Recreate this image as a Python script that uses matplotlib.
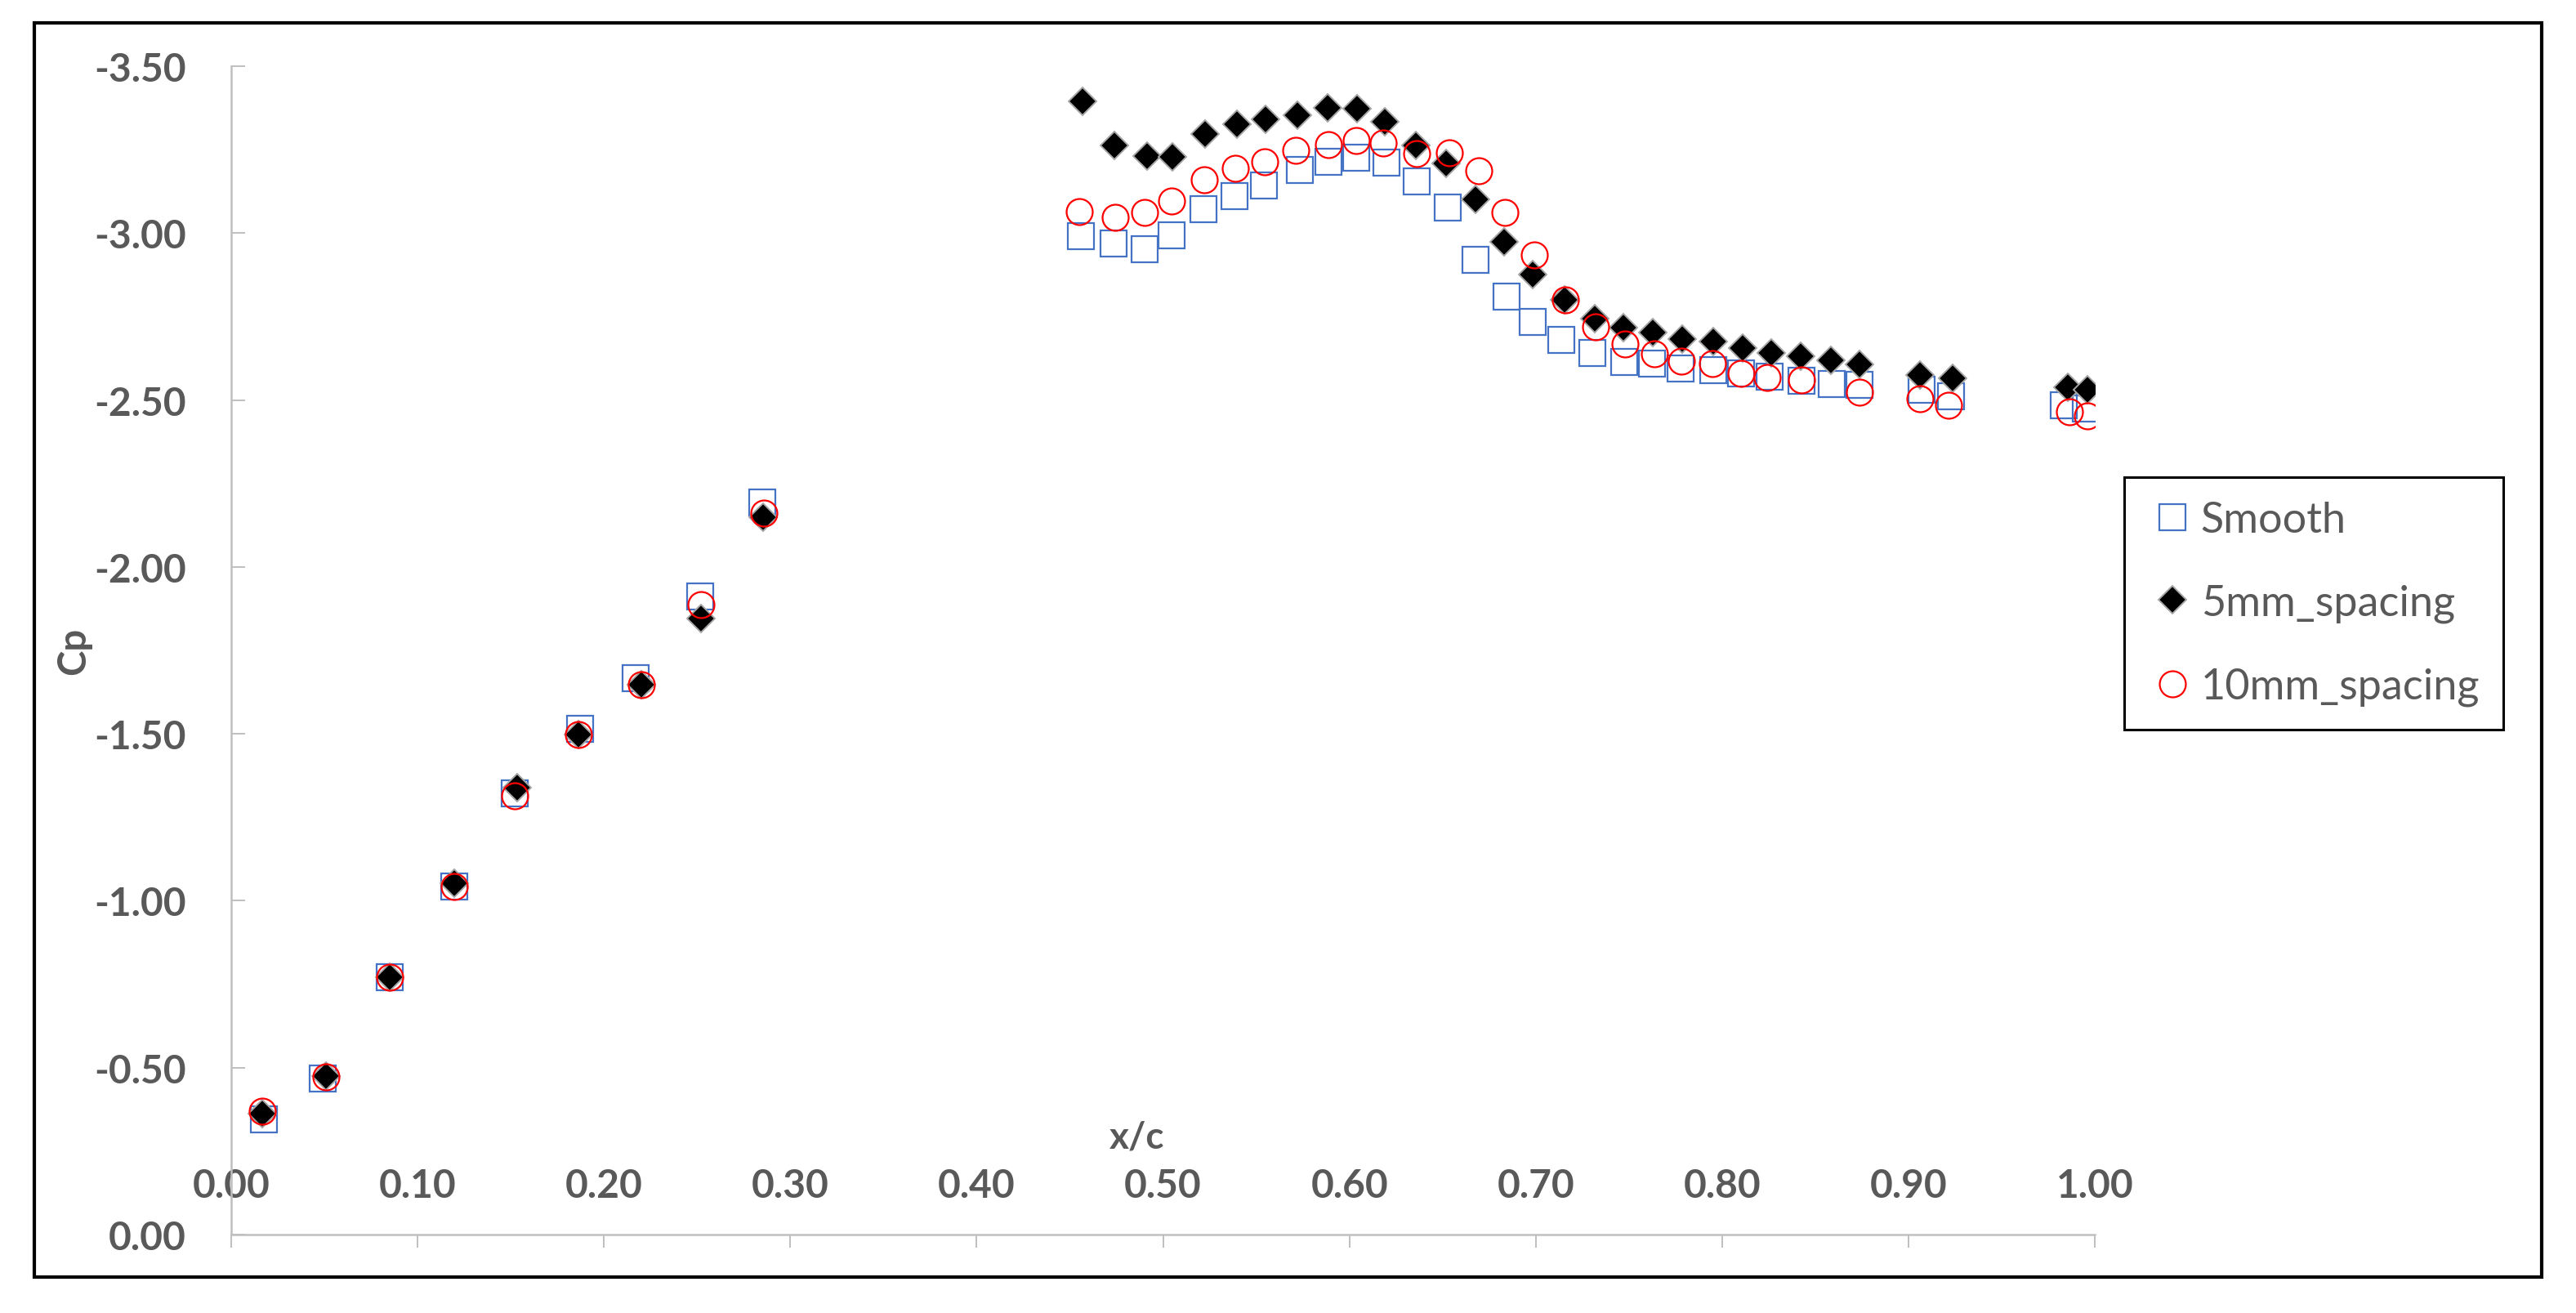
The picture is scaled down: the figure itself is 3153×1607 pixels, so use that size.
import matplotlib.pyplot as plt
from matplotlib.patches import Rectangle

# x/c positions and Cp values
smooth_x = [0.0175, 0.049, 0.0848, 0.1197, 0.152, 0.187, 0.2168, 0.2516, 0.285,
            0.4558, 0.4733, 0.4899, 0.5045, 0.5216, 0.5384, 0.554, 0.5732, 0.5888, 0.6036,
            0.62, 0.6363, 0.6527, 0.6678, 0.6842, 0.6985, 0.7139, 0.7305, 0.7476, 0.7624,
            0.7778, 0.7954, 0.8102, 0.8255, 0.8426, 0.8588, 0.8739, 0.9071, 0.9228, 0.9833, 0.9953]
smooth_cp = [-0.345, -0.467, -0.770, -1.043, -1.321, -1.516, -1.667, -1.911, -2.192,
             -2.992, -2.970, -2.952, -2.994, -3.071, -3.111, -3.142, -3.188, -3.213, -3.226,
             -3.210, -3.154, -3.076, -2.919, -2.809, -2.733, -2.680, -2.642, -2.615, -2.609,
             -2.595, -2.589, -2.580, -2.569, -2.557, -2.549, -2.545, -2.532, -2.512, -2.485, -2.475]

mm5_x = [0.0166, 0.0506, 0.0848, 0.1195, 0.1533, 0.1862, 0.2202, 0.2519, 0.2853,
         0.4569, 0.4738, 0.4914, 0.5052, 0.5224, 0.5397, 0.5548, 0.5719, 0.5883, 0.6041,
         0.619, 0.6358, 0.6517, 0.6678, 0.6829, 0.6982, 0.7154, 0.7315, 0.7471, 0.7627,
         0.7788, 0.7954, 0.811, 0.8263, 0.842, 0.8582, 0.8737, 0.9062, 0.9237, 0.9855, 0.996]
mm5_cp = [-0.362, -0.475, -0.770, -1.052, -1.339, -1.498, -1.648, -1.845, -2.149,
          -3.395, -3.262, -3.230, -3.229, -3.298, -3.327, -3.341, -3.352, -3.376, -3.372,
          -3.333, -3.262, -3.209, -3.101, -2.973, -2.877, -2.799, -2.744, -2.717, -2.702,
          -2.682, -2.675, -2.656, -2.640, -2.632, -2.618, -2.607, -2.576, -2.565, -2.538, -2.532]

mm10_x = [0.0166, 0.0506, 0.0848, 0.1197, 0.152, 0.1862, 0.2202, 0.2519, 0.286,
          0.4552, 0.4745, 0.4899, 0.5047, 0.5221, 0.5387, 0.5545, 0.5714, 0.5888, 0.6036,
          0.618, 0.6361, 0.6537, 0.6693, 0.6836, 0.6993, 0.7159, 0.732, 0.7478, 0.7637,
          0.7783, 0.7947, 0.8102, 0.8244, 0.8424, 0.8736, 0.9063, 0.9215, 0.9865, 0.996]
mm10_cp = [-0.370, -0.472, -0.770, -1.043, -1.314, -1.498, -1.648, -1.887, -2.161,
           -3.064, -3.048, -3.063, -3.097, -3.160, -3.195, -3.213, -3.247, -3.264, -3.278,
           -3.269, -3.238, -3.241, -3.186, -3.063, -2.934, -2.799, -2.720, -2.667, -2.638,
           -2.617, -2.609, -2.580, -2.568, -2.561, -2.523, -2.503, -2.485, -2.464, -2.452]

x_ticks = [0.0, 0.1, 0.2, 0.3, 0.4, 0.5, 0.6, 0.7, 0.8, 0.9, 1.0]
x_tick_labels = ['0.00', '0.10', '0.20', '0.30', '0.40', '0.50', '0.60', '0.70', '0.80', '0.90', '1.00']
y_ticks = [0.0, -0.5, -1.0, -1.5, -2.0, -2.5, -3.0, -3.5]
y_tick_labels = ['0.00', '-0.50', '-1.00', '-1.50', '-2.00', '-2.50', '-3.00', '-3.50']

plt.rcParams['font.family'] = ['Lato', 'DejaVu Sans']
text_grey = '#595959'
axis_grey = '#BFBFBF'

fig = plt.figure(figsize=(31.53, 16.08), dpi=100)
ax = fig.add_axes([0.0898, 0.0597, 0.7234, 0.8893])

ax.plot(smooth_x, smooth_cp, linestyle='none', marker='s', markersize=22.5,
        markerfacecolor='none', markeredgecolor='#4472C4', markeredgewidth=1.6, label='Smooth')
ax.plot(mm5_x, mm5_cp, linestyle='none', marker='D', markersize=17.5,
        markerfacecolor='black', markeredgecolor='#A6A6A6', markeredgewidth=1.4, label='5mm_spacing')
ax.plot(mm10_x, mm10_cp, linestyle='none', marker='o', markersize=23,
        markerfacecolor='none', markeredgecolor='#FF0000', markeredgewidth=1.6, label='10mm_spacing')

ax.set_xlim(0, 1.0)
ax.set_ylim(0, -3.5)

ax.set_xticks(x_ticks)
ax.set_xticklabels(x_tick_labels)
ax.set_yticks(y_ticks)
ax.set_yticklabels(y_tick_labels)

ax.tick_params(axis='x', direction='out', length=11.5, width=1.4, color=axis_grey,
               pad=-70.5, labelsize=34.5, labelcolor=text_grey)
ax.tick_params(axis='y', direction='in', length=12, width=1.4, color=axis_grey,
               pad=40, labelsize=34.5, labelcolor=text_grey)
for lab in ax.get_xticklabels() + ax.get_yticklabels():
    lab.set_fontweight('bold')

for side in ['top', 'right']:
    ax.spines[side].set_visible(False)
for side in ['left', 'bottom']:
    ax.spines[side].set_color(axis_grey)
    ax.spines[side].set_linewidth(1.8)

ax.set_xlabel('x/c', fontsize=33, fontweight='bold', color=text_grey)
ax.xaxis.set_label_coords(0.486, 0.098)
ax.set_ylabel('Cp', fontsize=34, fontweight='bold', color=text_grey)
ax.yaxis.set_label_coords(-0.075, 0.5)

leg = ax.legend(loc='upper left', bbox_to_anchor=(1.0158, 0.648), borderaxespad=0,
                fontsize=37.5, frameon=True, fancybox=False, framealpha=1, edgecolor='black',
                borderpad=0.55, labelspacing=1.05, handlelength=1.15, handletextpad=0.1,
                numpoints=1)
leg.get_frame().set_linewidth(2.2)
for t in leg.get_texts():
    t.set_color(text_grey)

# outer chart border
fig.patches.append(Rectangle((0.0133, 0.0274), 0.9734, 0.9546, transform=fig.transFigure,
                             fill=False, edgecolor='black', linewidth=3))

fig.savefig('out.png', dpi=100, facecolor='white')
